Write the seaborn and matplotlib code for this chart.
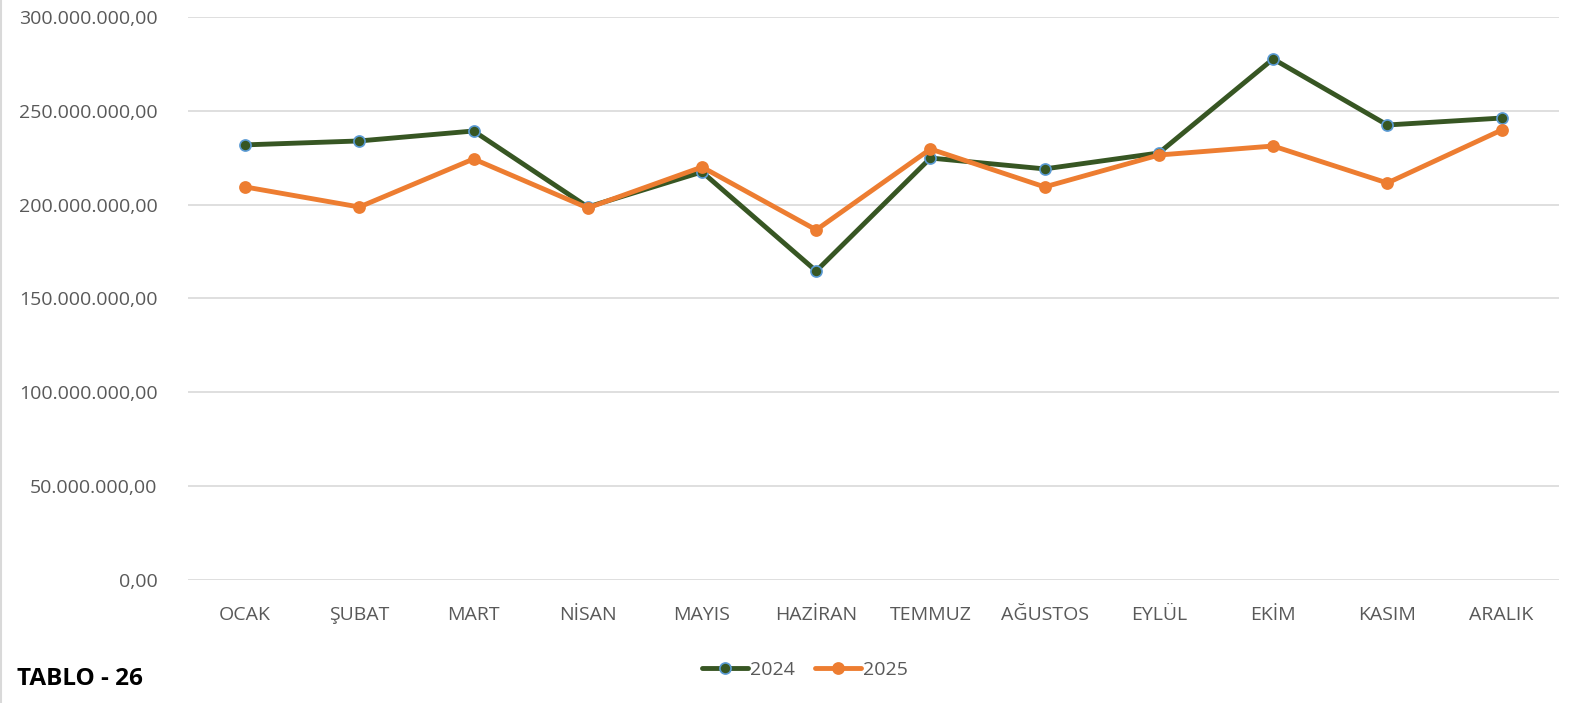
import pandas as pd
import matplotlib.pyplot as plt
import matplotlib.ticker as mticker
import seaborn as sns

months = ['OCAK', 'ŞUBAT', 'MART', 'NİSAN', 'MAYIS', 'HAZİRAN',
          'TEMMUZ', 'AĞUSTOS', 'EYLÜL', 'EKİM', 'KASIM', 'ARALIK']
values_2024 = [231.8, 233.9, 239.2, 198.7, 217.4, 164.6,
               224.8, 219.0, 227.5, 277.6, 242.4, 246.1]  # milyon
values_2025 = [209.4, 198.7, 224.3, 198.2, 220.0, 186.5,
               229.6, 209.4, 226.4, 231.2, 211.5, 239.7]
y_ticks = [0, 50, 100, 150, 200, 250, 300]

df = pd.DataFrame({
    'Ay': months * 2,
    'Tutar': [v * 1e6 for v in values_2024 + values_2025],
    'Yil': ['2024'] * 12 + ['2025'] * 12,
})

sns.set_style('white')
plt.rcParams['font.family'] = ['Open Sans', 'DejaVu Sans']

fig = plt.figure(figsize=(15.76, 7.03), dpi=100)
ax = fig.add_axes([0.1193, 0.175, 0.8697, 0.801])

styles = {
    '2024': dict(color='#375623', mec='#5B9BD5'),
    '2025': dict(color='#ED7D31', mec='#ED7D31'),
}
for yil, st in styles.items():
    sub = df[df['Yil'] == yil]
    sns.lineplot(data=sub, x='Ay', y='Tutar', ax=ax, color=st['color'],
                 linewidth=3.5, marker='o', markersize=8,
                 markerfacecolor=st['color'], markeredgecolor=st['mec'],
                 markeredgewidth=1.2, label=yil, sort=False)

ax.set_xlim(-0.5, len(months) - 0.5)
ax.set_ylim(0, 300e6)
ax.set_yticks([t * 1e6 for t in y_ticks])
ax.yaxis.set_major_formatter(mticker.FuncFormatter(
    lambda v, p: f"{v:,.2f}".replace(',', 'X').replace('.', ',').replace('X', '.')))
ax.grid(axis='y', color='#d9d9d9', linewidth=1.2)
ax.set_axisbelow(True)
for s in ax.spines.values():
    s.set_visible(False)
ax.set_xlabel('')
ax.set_ylabel('')
ax.tick_params(axis='both', length=0, labelsize=14, labelcolor='#595959')
ax.tick_params(axis='x', pad=19)
ax.tick_params(axis='y', pad=22)

leg = ax.legend(loc='center', bbox_to_anchor=(0.45, -0.16), ncol=2,
                frameon=False, fontsize=14, handlelength=2.4,
                handletextpad=0.1, columnspacing=1.0, labelcolor='#595959')

fig.text(0.011, 0.025, 'TABLO - 26', fontsize=17.5, fontweight='bold', color='black')
fig.add_artist(plt.Line2D([0.0006, 0.0006], [0, 1], color='#d9d9d9', linewidth=1.5))

fig.savefig('out.png', dpi=100)
